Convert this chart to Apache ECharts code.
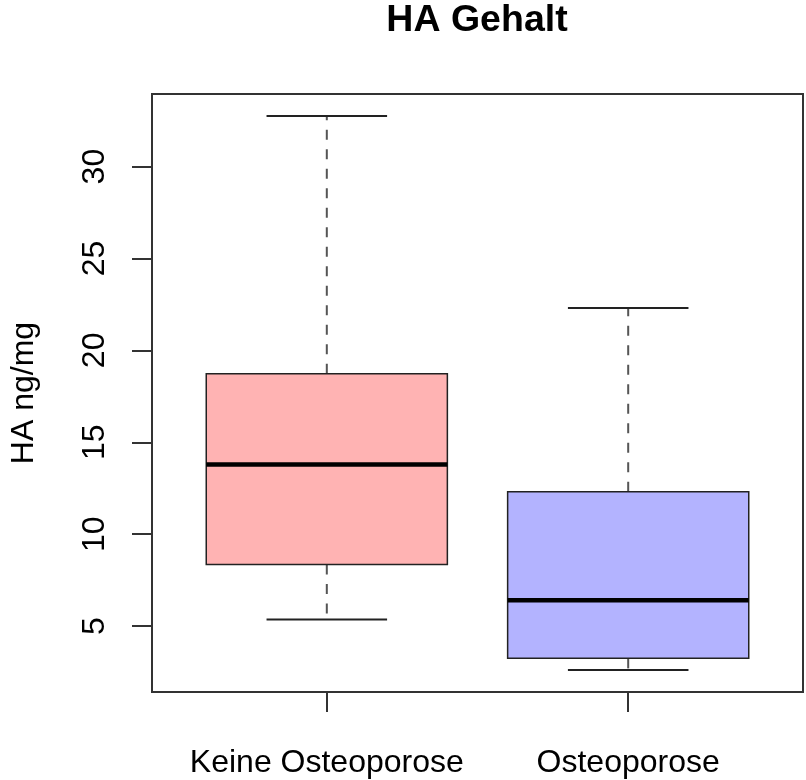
<!DOCTYPE html>
<html>
<head>
<meta charset="utf-8">
<script src="https://cdn.jsdelivr.net/npm/echarts@6/dist/echarts.min.js"></script>
<style>
  html, body { margin: 0; padding: 0; background: #fff; }
  #chart { width: 806px; height: 780px; }
</style>
</head>
<body>
<div id="chart"></div>
<script>
// values
const categories = ['Keine Osteoporose', 'Osteoporose']
const lowerWhisker = [5.36, 2.61]
const q1 = [8.35, 3.24]
const median = [13.79, 6.40]
const q3 = [18.73, 12.30]
const upperWhisker = [32.75, 22.30]
const boxColors = ['#FFB3B3', '#B3B3FF']
const yTicks = [5, 10, 15, 20, 25, 30]
const xTicks = [1, 2]

const font = 'Liberation Sans, Arial, sans-serif'

const boxData = categories.map((c, i) => [i + 1, lowerWhisker[i], q1[i], median[i], q3[i], upperWhisker[i]])

const renderBox = (params, api) => {
  const x = api.value(0)
  const lo = api.coord([x, api.value(1)])
  const b1 = api.coord([x, api.value(2)])
  const md = api.coord([x, api.value(3)])
  const b3 = api.coord([x, api.value(4)])
  const hi = api.coord([x, api.value(5)])
  const boxW = api.size([0.8, 0])[0]
  const capW = api.size([0.4, 0])[0]
  const cx = lo[0]
  const dashed = { stroke: '#555', lineWidth: 2, lineDash: [10, 9.5] }
  const solid = { stroke: '#222', lineWidth: 2 }
  return {
    type: 'group',
    children: [
      { type: 'line', shape: { x1: cx, y1: b3[1], x2: cx, y2: hi[1] }, style: dashed },
      { type: 'line', shape: { x1: cx, y1: b1[1], x2: cx, y2: lo[1] }, style: dashed },
      { type: 'line', shape: { x1: cx - capW / 2, y1: hi[1], x2: cx + capW / 2, y2: hi[1] }, style: solid },
      { type: 'line', shape: { x1: cx - capW / 2, y1: lo[1], x2: cx + capW / 2, y2: lo[1] }, style: solid },
      {
        type: 'rect',
        shape: { x: cx - boxW / 2, y: b3[1], width: boxW, height: b1[1] - b3[1] },
        style: { fill: boxColors[params.dataIndex], stroke: '#222', lineWidth: 1.5 }
      },
      { type: 'line', shape: { x1: cx - boxW / 2, y1: md[1], x2: cx + boxW / 2, y2: md[1] }, style: { stroke: '#000', lineWidth: 4.5 } }
    ]
  }
}

const chart = echarts.init(document.getElementById('chart'))

chart.setOption({
  animation: false,
  backgroundColor: '#fff',
  title: {
    text: 'HA Gehalt',
    left: 477,
    textAlign: 'center',
    top: 2,
    padding: 0,
    textStyle: { fontFamily: font, fontSize: 37.5, fontWeight: 'bold', color: '#000' }
  },
  grid: {
    left: 152,
    right: 3,
    top: 94,
    bottom: 88,
    show: true,
    borderColor: '#333',
    borderWidth: 2
  },
  xAxis: {
    type: 'value',
    min: 0.42,
    max: 2.58,
    splitLine: { show: false },
    axisLine: { show: true, lineStyle: { color: '#333', width: 2 } },
    axisTick: { show: true, customValues: xTicks, length: 20, lineStyle: { color: '#333', width: 2 } },
    axisLabel: {
      customValues: xTicks,
      formatter: v => categories[Math.round(v) - 1],
      margin: 55,
      fontFamily: font,
      fontSize: 32,
      color: '#000'
    }
  },
  yAxis: {
    type: 'value',
    min: 1.41,
    max: 33.95,
    name: 'HA ng/mg',
    nameLocation: 'middle',
    nameGap: 112,
    nameTextStyle: { fontFamily: font, fontSize: 32, color: '#000' },
    splitLine: { show: false },
    axisLine: { show: true, lineStyle: { color: '#333', width: 2 } },
    axisTick: { show: true, customValues: yTicks, length: 20, lineStyle: { color: '#333', width: 2 } },
    axisLabel: {
      customValues: yTicks,
      rotate: 90,
      margin: 41,
      fontFamily: font,
      fontSize: 32,
      color: '#000'
    }
  },
  series: [{
    type: 'custom',
    renderItem: renderBox,
    encode: { x: 0, y: [1, 2, 3, 4, 5] },
    data: boxData
  }]
})
</script>
</body>
</html>
